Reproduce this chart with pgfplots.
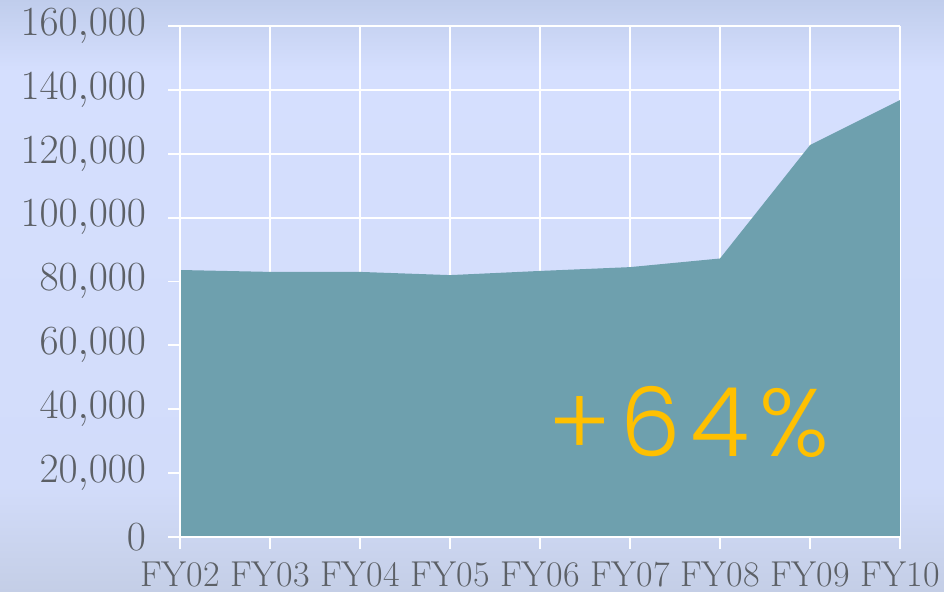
\documentclass[border=0pt]{standalone}
\usepackage{pgfplots}
\pgfplotsset{compat=1.18}
\usepackage{fontspec}
\newfontfamily\pop[LetterSpace=10]{Poppins Light}
\definecolor{areac}{RGB}{110,160,174}
\definecolor{labc}{RGB}{92,96,102}
\definecolor{gold}{RGB}{255,192,0}
\definecolor{bgb}{RGB}{196,206,230}
\definecolor{bgm2}{RGB}{210,220,250}
\definecolor{bgm}{RGB}{213,223,254}
\definecolor{bgt}{RGB}{192,205,236}
\pgfdeclareverticalshading{bgshade}{100bp}{color(0bp)=(bgb); color(25bp)=(bgb); color(34bp)=(bgm2); color(69bp)=(bgm); color(75bp)=(bgt); color(100bp)=(bgt)}
\begin{document}
\begin{tikzpicture}
\shade[shading=bgshade] (-90pt,-27.5pt) rectangle (382pt,268.5pt);
\useasboundingbox (-90pt,-27.5pt) rectangle (382pt,268.5pt);
\begin{axis}[at={(0,0)}, anchor=south west, scale only axis,
  width=360pt, height=255.5pt,
  xmin=0, xmax=8, ymin=0, ymax=160000,
  xtick={0,...,8},
  xticklabels={FY02,FY03,FY04,FY05,FY06,FY07,FY08,FY09,FY10},
  ytick={0,20000,...,160000},
  scaled y ticks=false,
  grid=major, grid style={white, line width=0.9pt},
  axis line style={draw=none},
  tick style={white, line width=0.9pt},
  tick align=outside, major tick length=6pt, tick pos=left,
  yticklabel style={font=\fontsize{21}{24}\selectfont, text=labc, /pgf/number format/fixed, xshift=-7.5pt},
  xticklabel style={font=\fontsize{18}{21}\selectfont, text=labc, yshift=-3pt},
  clip=false]
\addplot[fill=areac, draw=none] coordinates {
(0,83600) (1,83000) (2,83000) (3,82000) (4,83300) (5,84500) (6,87200) (7,122700) (8,136800)
} \closedcycle;
\draw[white, line width=0.9pt] (rel axis cs:0,0) -- (rel axis cs:0,1);
\draw[white, line width=0.9pt] (rel axis cs:0,0) -- (rel axis cs:1,0);
\node[text=gold, font=\pop\fontsize{48}{50}\selectfont] at (axis cs:5.65,36000) {+64\%};
\end{axis}
\end{tikzpicture}
\end{document}
